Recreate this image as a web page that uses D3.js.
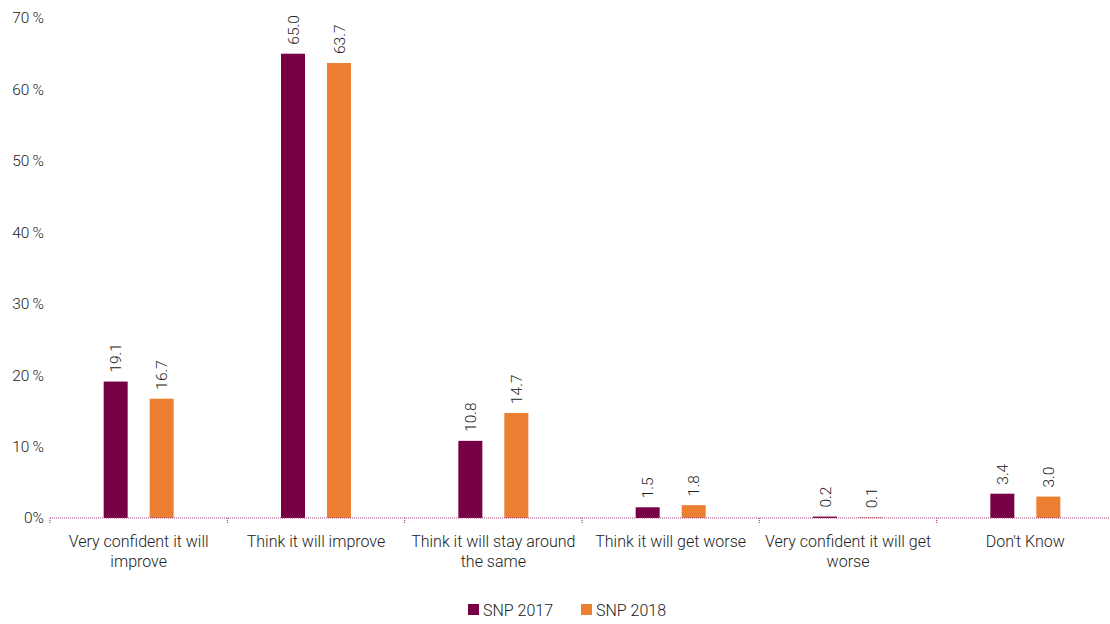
<!DOCTYPE html>
<html><head><meta charset="utf-8">
<script src="https://cdn.jsdelivr.net/npm/d3@7"></script>
<style>body{margin:0;background:#fff;} text{font-family:Roboto, "Liberation Sans", sans-serif; font-weight:300; fill:#222;}</style>
</head><body><svg id="c" width="1110" height="624"></svg>
<script>
const categories = [["Very confident it will","improve"],["Think it will improve"],["Think it will stay around","the same"],["Think it will get worse"],["Very confident it will get","worse"],["Don't Know"]];
const series = ["SNP 2017","SNP 2018"];
const snp2017 = [19.1, 65.0, 10.8, 1.5, 0.2, 3.4];
const snp2018 = [16.7, 63.7, 14.7, 1.8, 0.1, 3.0];
const yTicks = [0,10,20,30,40,50,60,70];
const colors = ["#760043","#ED7F33"];

const svg = d3.select("#c");
const x = d3.scaleBand().domain(d3.range(categories.length)).range([50,1114]).paddingInner(0).paddingOuter(0);
const y = d3.scaleLinear().domain([0,70]).range([518,18]);

// y labels
svg.append("g").selectAll("text").data(yTicks).join("text")
  .attr("x",44).attr("y",d=>y(d)).attr("dy","0.35em").attr("text-anchor","end")
  .style("font-size","15.5px").text(d=>d+(d===0?"%":"\u2009%"));

const data = [snp2017, snp2018];
const bw = 24;
series.forEach((s,si)=>{
  const g = svg.append("g");
  const off = si===0 ? -23 : 23;
  g.selectAll("rect").data(data[si]).join("rect")
    .attr("x",(d,i)=>x(i)+x.bandwidth()/2+off-bw/2)
    .attr("width",bw)
    .attr("y",d=>y(d)).attr("height",d=>y(0)-y(d))
    .attr("fill",colors[si]);
  g.selectAll("text").data(data[si]).join("text")
    .attr("transform",(d,i)=>`translate(${x(i)+x.bandwidth()/2+off+5.5},${y(d)-9}) rotate(-90)`)
    .attr("text-anchor","start").style("font-size","15.5px")
    .text(d=>d.toFixed(1));
});

// axis line
svg.append("line").attr("x1",50).attr("x2",1110).attr("y1",518).attr("y2",518)
  .attr("stroke","#a3467d").attr("stroke-width",1.2).attr("stroke-dasharray","1,1");
svg.append("g").selectAll("line").data(d3.range(categories.length)).join("line")
  .attr("x1",i=>x(i)).attr("x2",i=>x(i)).attr("y1",518).attr("y2",524)
  .attr("stroke","#a3467d").attr("stroke-width",1.2).attr("stroke-dasharray","1,1");

// category labels
svg.append("g").selectAll("text").data(categories).join("text")
  .attr("x",(d,i)=>x(i)+x.bandwidth()/2).attr("y",547)
  .attr("text-anchor","middle").style("font-size","16px")
  .each(function(d){
    d3.select(this).selectAll("tspan").data(d).join("tspan")
      .attr("x",d3.select(this).attr("x")).attr("dy",(t,j)=>j===0?0:20).text(t=>t);
  });

// legend
const leg = svg.append("g");
const lx = [468,581];
series.forEach((s,si)=>{
  leg.append("rect").attr("x",lx[si]).attr("y",604).attr("width",11).attr("height",11).attr("fill",colors[si]);
  leg.append("text").attr("x",lx[si]+15).attr("y",610).attr("dy","0.35em").style("font-size","16px").text(s);
});
</script></body></html>
